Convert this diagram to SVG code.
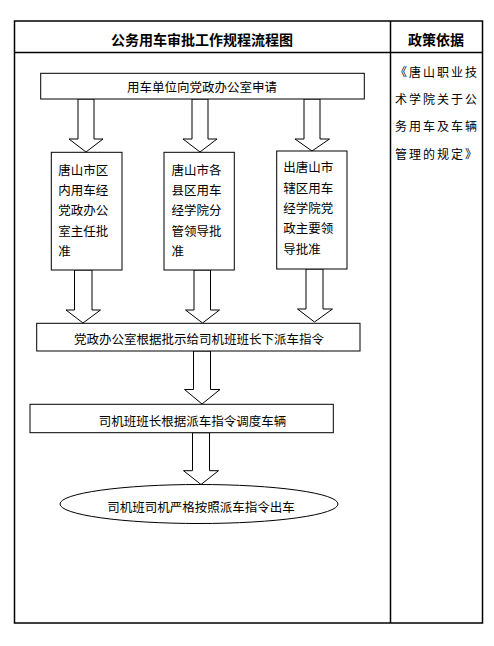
<svg xmlns="http://www.w3.org/2000/svg" width="494" height="646" viewBox="0 0 494 646">
<style>
.tbl{fill:none;stroke:#000;stroke-width:1.5}
.box{fill:#fff;stroke:#000;stroke-width:1}
.arr{fill:#fff;stroke:#000;stroke-width:1;stroke-linejoin:miter}
text{font-family:"Noto Sans CJK SC","Noto Sans",sans-serif;fill:#000}
.t{font-size:12.5px}
.c{text-anchor:middle;dominant-baseline:central}
.l{dominant-baseline:central}
.h{font-size:14px;font-weight:bold;text-anchor:middle;dominant-baseline:central}
.p{font-size:12px;letter-spacing:2px;dominant-baseline:central}
</style>
<rect width="494" height="646" fill="#fff"/>
<g id="table">
<rect class="tbl" x="14.5" y="21" width="468" height="602"/>
<line class="tbl" x1="14.5" y1="52.5" x2="482.5" y2="52.5"/>
<line class="tbl" x1="390.5" y1="21" x2="390.5" y2="623"/>
<text class="h" x="202" y="38.5">公务用车审批工作规程流程图</text>
<text class="h" x="436" y="38.5">政策依据</text>
</g>
<g id="policy">
<text class="p" x="395" y="71">《唐山职业技</text>
<text class="p" x="395" y="98.3">术学院关于公</text>
<text class="p" x="395" y="125.7">务用车及车辆</text>
<text class="p" x="395" y="153">管理的规定》</text>
</g>
<g id="connectors">
<polygon class="arr" points="78,99 94,99 94,139 103,139 86,152 69,139 78,139"/>
<polygon class="arr" points="192,99 208,99 208,139 217,139 200,152 183,139 192,139"/>
<polygon class="arr" points="304,99 320,99 320,139 329.5,139 312,151 295,139 304,139"/>
<polygon class="arr" points="74.5,270 92,270 92,310 100.5,310 83,323 66,310 74.5,310"/>
<polygon class="arr" points="194,270 210.5,270 210.5,310 219.5,310 202.5,323 185.5,310 194,310"/>
<polygon class="arr" points="306,269 323,269 323,309 332.5,309 314.5,322 297.5,309 306,309"/>
<polygon class="arr" points="193.5,351 210.5,351 210.5,389.5 220,389.5 202,404 184.5,389.5 193.5,389.5"/>
<polygon class="arr" points="192.5,432.7 209.5,432.7 209.5,470.7 218.5,470.7 201,484.5 183.5,470.7 192.5,470.7"/>
</g>
<g id="n1">
<rect class="box" x="40.7" y="73.3" width="323.6" height="25.7"/>
<text class="t c" x="202" y="86">用车单位向党政办公室申请</text>
</g>
<g id="n2">
<rect class="box" x="51.3" y="152.3" width="70.7" height="117.7"/>
<text class="t l" x="58.3" y="169">唐山市区</text>
<text class="t l" x="58.3" y="189.4">内用车经</text>
<text class="t l" x="58.3" y="209.8">党政办公</text>
<text class="t l" x="58.3" y="230.2">室主任批</text>
<text class="t l" x="58.3" y="250.6">准</text>
</g>
<g id="n3">
<rect class="box" x="164" y="152.3" width="70.3" height="117.7"/>
<text class="t l" x="171.5" y="169">唐山市各</text>
<text class="t l" x="171.5" y="189.4">县区用车</text>
<text class="t l" x="171.5" y="209.8">经学院分</text>
<text class="t l" x="171.5" y="230.2">管领导批</text>
<text class="t l" x="171.5" y="250.6">准</text>
</g>
<g id="n4">
<rect class="box" x="276.7" y="151" width="70.3" height="118"/>
<text class="t l" x="283.3" y="166.7">出唐山市</text>
<text class="t l" x="283.3" y="187.1">辖区用车</text>
<text class="t l" x="283.3" y="207.5">经学院党</text>
<text class="t l" x="283.3" y="227.9">政主要领</text>
<text class="t l" x="283.3" y="248.3">导批准</text>
</g>
<g id="n5">
<rect class="box" x="36.7" y="323.3" width="323.3" height="27.7"/>
<text class="t c" x="199" y="338.5">党政办公室根据批示给司机班班长下派车指令</text>
</g>
<g id="n6">
<rect class="box" x="30" y="404.3" width="303.3" height="28.4"/>
<text class="t c" x="192.5" y="420.5">司机班班长根据派车指令调度车辆</text>
</g>
<g id="n7">
<ellipse class="box" cx="199" cy="504" rx="139" ry="19.5"/>
<text class="t c" x="201" y="506">司机班司机严格按照派车指令出车</text>
</g>
</svg>
